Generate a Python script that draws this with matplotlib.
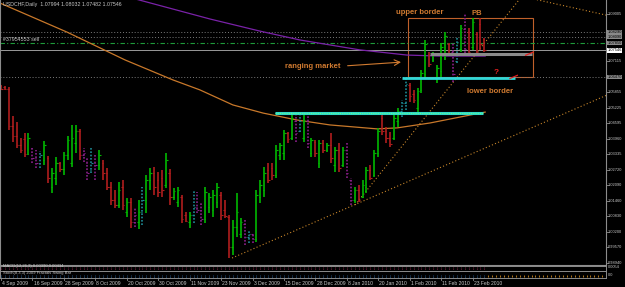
import matplotlib
matplotlib.use("Agg")
import matplotlib.pyplot as plt
from matplotlib.patches import Rectangle

plt.rcParams['font.family'] = ['Liberation Sans', 'DejaVu Sans']

# USDCHF daily bars, 4 Sep 2009 - 26 Feb 2010
highs = [1.0615, 1.0611, 1.0607, 1.0489, 1.0465, 1.0400, 1.0420, 1.0420, 1.0364, 1.0352,
         1.0347, 1.0388, 1.0327, 1.0279, 1.0323, 1.0303, 1.0343, 1.0408, 1.0453, 1.0453,
         1.0437, 1.0360, 1.0323, 1.0360, 1.0331, 1.0352, 1.0311, 1.0279, 1.0222, 1.0190,
         1.0222, 1.0230, 1.0157, 1.0157, 1.0121, 1.0149, 1.0202, 1.0250, 1.0279, 1.0283,
         1.0263, 1.0271, 1.0339, 1.0275, 1.0198, 1.0202, 1.0169, 1.0100, 1.0100, 1.0190,
         1.0181, 1.0141, 1.0202, 1.0177, 1.0190, 1.0218, 1.0181, 1.0149, 1.0088, 1.0068,
         1.0177, 1.0076, 1.0068, 1.0028, 1.0015, 1.0190, 1.0230, 1.0283, 1.0299, 1.0299,
         1.0372, 1.0380, 1.0433, 1.0424, 1.0505, 1.0501, 1.0501, 1.0493, 1.0501, 1.0400,
         1.0392, 1.0392, 1.0392, 1.0380, 1.0420, 1.0364, 1.0380, 1.0364, 1.0380, 1.0238,
         1.0202, 1.0210, 1.0230, 1.0283, 1.0291, 1.0352, 1.0441, 1.0493, 1.0445, 1.0424,
         1.0493, 1.0522, 1.0554, 1.0643, 1.0623, 1.0595, 1.0603, 1.0676, 1.0797, 1.0748,
         1.0748, 1.0696, 1.0785, 1.0829, 1.0785, 1.0785, 1.0805, 1.0858, 1.0906, 1.0846,
         1.0886, 1.0829, 1.0886, 1.08032]
lows = [1.0595, 1.0595, 1.0433, 1.0384, 1.0360, 1.0339, 1.0323, 1.0331, 1.0299, 1.0279,
        1.0279, 1.0291, 1.0218, 1.0177, 1.0210, 1.0263, 1.0250, 1.0311, 1.0283, 1.0339,
        1.0311, 1.0303, 1.0230, 1.0258, 1.0230, 1.0271, 1.0230, 1.0190, 1.0129, 1.0117,
        1.0117, 1.0109, 1.0080, 1.0036, 1.0040, 1.0032, 1.0048, 1.0096, 1.0190, 1.0169,
        1.0161, 1.0161, 1.0198, 1.0129, 1.0149, 1.0121, 1.0056, 1.0060, 1.0036, 1.0056,
        1.0096, 1.0048, 1.0056, 1.0096, 1.0080, 1.0117, 1.0068, 1.0076, 0.9914, 0.9926,
        0.9999, 0.9995, 0.9967, 0.9975, 0.9975, 0.9979, 1.0137, 1.0161, 1.0218, 1.0230,
        1.0238, 1.0311, 1.0311, 1.0380, 1.0392, 1.0384, 1.0424, 1.0384, 1.0360, 1.0323,
        1.0323, 1.0279, 1.0339, 1.0343, 1.0299, 1.0263, 1.0263, 1.0283, 1.0238, 1.0129,
        1.0137, 1.0141, 1.0157, 1.0177, 1.0230, 1.0242, 1.0323, 1.0412, 1.0380, 1.0364,
        1.0392, 1.0445, 1.0485, 1.0513, 1.0546, 1.0542, 1.0501, 1.0582, 1.0647, 1.0688,
        1.0708, 1.0623, 1.0647, 1.0716, 1.0736, 1.0627, 1.0704, 1.0748, 1.0744, 1.0736,
        1.0757, 1.0736, 1.0757, 1.07482]
opens = [1.0612, 1.0608, 1.0598, 1.0450, 1.0410, 1.0372, 1.0395, 1.0335, 1.0360, 1.0320,
         1.0300, 1.0310, 1.0320, 1.0200, 1.0240, 1.0300, 1.0275, 1.0330, 1.0300, 1.0380,
         1.0430, 1.0330, 1.0300, 1.0270, 1.0300, 1.0290, 1.0300, 1.0260, 1.0200, 1.0150,
         1.0130, 1.0200, 1.0100, 1.0140, 1.0060, 1.0060, 1.0100, 1.0150, 1.0230, 1.0260,
         1.0230, 1.0240, 1.0210, 1.0260, 1.0160, 1.0140, 1.0160, 1.0090, 1.0060, 1.0090,
         1.0120, 1.0110, 1.0070, 1.0120, 1.0110, 1.0140, 1.0170, 1.0110, 1.0080, 0.9960,
         1.0040, 1.0010, 1.0050, 1.0000, 1.0010, 0.9990, 1.0160, 1.0190, 1.0270, 1.0280,
         1.0250, 1.0330, 1.0340, 1.0420, 1.0400, 1.0470, 1.0430, 1.0400, 1.0470, 1.0340,
         1.0385, 1.0300, 1.0380, 1.0350, 1.0370, 1.0290, 1.0350, 1.0290, 1.0350, 1.0230,
         1.0150, 1.0190, 1.0160, 1.0200, 1.0270, 1.0250, 1.0340, 1.0480, 1.0430, 1.0400,
         1.0400, 1.0470, 1.0510, 1.0540, 1.0615, 1.0580, 1.0520, 1.0595, 1.0660, 1.0740,
         1.0715, 1.0640, 1.0670, 1.0740, 1.0780, 1.0750, 1.0710, 1.0760, 1.0840, 1.0830,
         1.0770, 1.0820, 1.0860, 1.07994]
closes = [1.0600, 1.0598, 1.0450, 1.0410, 1.0372, 1.0350, 1.0335, 1.0400, 1.0320, 1.0300,
          1.0330, 1.0370, 1.0240, 1.0260, 1.0300, 1.0275, 1.0330, 1.0390, 1.0400, 1.0430,
          1.0330, 1.0340, 1.0260, 1.0300, 1.0290, 1.0330, 1.0260, 1.0200, 1.0150, 1.0130,
          1.0190, 1.0130, 1.0140, 1.0060, 1.0090, 1.0100, 1.0150, 1.0230, 1.0260, 1.0200,
          1.0180, 1.0190, 1.0310, 1.0160, 1.0185, 1.0190, 1.0070, 1.0065, 1.0090, 1.0120,
          1.0110, 1.0070, 1.0180, 1.0160, 1.0170, 1.0200, 1.0090, 1.0085, 0.9960, 1.0040,
          1.0100, 1.0060, 1.0000, 1.0010, 0.9990, 1.0170, 1.0210, 1.0260, 1.0230, 1.0250,
          1.0350, 1.0370, 1.0420, 1.0395, 1.0480, 1.0420, 1.0470, 1.0470, 1.0380, 1.0390,
          1.0340, 1.0380, 1.0350, 1.0370, 1.0320, 1.0350, 1.0280, 1.0350, 1.0260, 1.0150,
          1.0190, 1.0150, 1.0210, 1.0270, 1.0240, 1.0340, 1.0430, 1.0430, 1.0400, 1.0375,
          1.0480, 1.0510, 1.0540, 1.0620, 1.0570, 1.0555, 1.0590, 1.0665, 1.0780, 1.0700,
          1.0740, 1.0685, 1.0770, 1.0815, 1.0745, 1.0660, 1.0790, 1.0845, 1.0760, 1.0750,
          1.0870, 1.0750, 1.0780, 1.07546]
# g = up bar, r = down bar, t / p = bars marked by the indicator (teal / purple)
kinds = ("rrrrrrrgpp" "tgrggrgggg" "rpptpgrrrr" "grgrpgtggr" "rrgrggrrgt"
         "ppggggrrrg" "ggptpgggrr" "gggrgptgpg" "rgrgrgrgpp" "grggrggrrr"
         "ggttrrgggr" "ggggrptgpr" "grrr")

date_idx = [0, 8, 16, 24, 32, 40, 48, 56, 64, 72, 80, 88, 96, 104, 112, 120]
date_labels = ["4 Sep 2009", "16 Sep 2009", "28 Sep 2009", "8 Oct 2009", "20 Oct 2009",
               "30 Oct 2009", "11 Nov 2009", "23 Nov 2009", "3 Dec 2009", "15 Dec 2009",
               "28 Dec 2009", "8 Jan 2010", "20 Jan 2010", "1 Feb 2010", "11 Feb 2010",
               "23 Feb 2010"]
price_ticks = [0.98940, 0.99570, 1.00200, 1.00830, 1.01460, 1.02090, 1.02720, 1.03335,
               1.03960, 1.04595, 1.05225, 1.05855, 1.07115, 1.09005]

# moving averages, read at a few points (bar index, price)
ma_orange_x = [-0.3, 16.8, 31.6, 43.8, 50.6, 59.0, 66.7, 75.3, 83.7, 95.7, 100.8, 109.2, 121.9, 123.2]
ma_orange_y = [1.0947, 1.0829, 1.0716, 1.0635, 1.0595, 1.0534, 1.0501, 1.0473, 1.0453, 1.0437,
               1.0441, 1.0461, 1.0501, 1.0505]
ma_purple_x = [33.3, 53.2, 65.9, 76.1, 91.3, 103.3, 111.7, 123.2]
ma_purple_y = [1.0967, 1.0882, 1.0833, 1.0797, 1.0757, 1.0736, 1.0732, 1.0732]

# drawn objects
dotted_levels = [1.0829, 1.0809, 1.0647]
sell_level = 1.0785
trend_long = ([58.8, 154.5], [0.9914, 1.0576])
trend_steep = ([90.1, 133.0], [1.0129, 1.0983])
trend_top = ([135.0, 154.5], [1.0965, 1.0896])
support_low = ([69.7, 122.6], 1.0503)
support_high = ([102.0, 130.8], 1.0643)
grey_level = ([109.2, 135.1], 1.0742)
box_x = (103.6, 135.4)
box_y = (1.0647, 1.0886)

BG = '#000000'
AXC = '#8c8c8c'
TXT = '#c8c8c8'
ORANGE = '#d07a30'
bar_col = {'g': '#00b800', 'r': '#b01e1e', 't': '#1d8a94', 'p': '#8a1f8a'}

fig = plt.figure(figsize=(6.25, 2.87), dpi=100, facecolor=BG)
W, H = 625.0, 287.0
ax = fig.add_axes([0, (H - 265) / H, 606 / W, 265 / H], facecolor=BG)
ax.set_xlim(-0.25, 153.95)
ax.set_ylim(0.98857, 1.0959)
for s in ax.spines.values():
    s.set_color(AXC)
    s.set_linewidth(0.8)
ax.spines['top'].set_visible(False)
ax.set_xticks([])
ax.set_yticks([])

# full width horizontal lines
for lv in dotted_levels:
    ax.axhline(lv, color='#7a7a7a', lw=0.7, ls=(0, (1, 2)))
ax.axhline(sell_level, color='#1f9a3a', lw=0.8, ls=(0, (4, 2, 1, 2)))
ax.axhline(closes[-1], color='#9a9a9a', lw=0.7)

# moving averages
ax.plot(ma_orange_x, ma_orange_y, color='#c8782a', lw=0.9)
ax.plot(ma_purple_x, ma_purple_y, color='#7a22a8', lw=0.9)

# trend lines
for xs, ys in (trend_long, trend_steep, trend_top):
    ax.plot(xs, ys, color='#c8862a', lw=0.8, ls=(0, (1, 2)))

# bars
for i, (o, h, l, c, k) in enumerate(zip(opens, highs, lows, closes, kinds)):
    col = bar_col[k]
    ls = '-' if k in 'gr' else (0, (1, 1))
    ax.plot([i, i], [l, h], color=col, lw=1.2, ls=ls, solid_capstyle='butt')
    ax.plot([i - 0.4, i], [o, o], color=col, lw=0.8, solid_capstyle='butt')
    ax.plot([i, i + 0.4], [c, c], color=col, lw=0.8, solid_capstyle='butt')

# support / resistance
ax.plot(support_low[0], [support_low[1]] * 2, color='#30d8c8', lw=2.2, solid_capstyle='butt')
ax.plot(support_low[0], [support_low[1]] * 2, color='#60ff90', lw=0.8, ls=(0, (1, 1)))
ax.plot(support_high[0], [support_high[1]] * 2, color='#30d8d8', lw=2.0, solid_capstyle='butt')
ax.plot(grey_level[0], [grey_level[1]] * 2, color='#8a8a8a', lw=2.2, solid_capstyle='butt')
ax.add_patch(Rectangle((box_x[0], box_y[0]), box_x[1] - box_x[0], box_y[1] - box_y[0],
                       fill=False, edgecolor='#c0602a', lw=0.8))

# small red markers at the ends of the levels
ax.plot([133.5, 135.4], [1.0735, 1.0748], color='#e02020', lw=0.9)
ax.plot([129.5, 131.4], [1.0641, 1.0654], color='#e02020', lw=0.9)

# annotations
tk = dict(color=ORANGE, fontsize=5.5, fontweight='bold', ha='center', va='center')
ax.text(106.6, 1.0910, 'upper border', **tk)
ax.text(121.1, 1.0906, 'PB', **tk)
ax.text(79.4, 1.0688, 'ranging market', **tk)
ax.text(124.4, 1.0590, 'lower border', **tk)
ax.text(126.0, 1.0667, '?', color='#e02020', fontsize=6, fontweight='bold', ha='center', va='center')
ax.annotate('', xy=(102.5, 1.0708), xytext=(87.5, 1.0692),
            arrowprops=dict(arrowstyle='->', color=ORANGE, lw=0.8))

ax.text(0.5, 1.0941, 'USDCHF,Daily  1.07994 1.08032 1.07482 1.07546', color=TXT, fontsize=3.8,
        ha='left', va='center')
ax.text(0.5, 1.0797, '#37954553 sell', color=TXT, fontsize=3.8, ha='left', va='center')

# price scale
ytr = ax.get_yaxis_transform()
FS = 2.9
for p in price_ticks:
    ax.plot([1.0, 1.003], [p, p], color=AXC, lw=0.6, transform=ytr, clip_on=False)
    ax.text(1.0025, p, '%.5f' % p, color=TXT, fontsize=FS, ha='left', va='center',
            transform=ytr, clip_on=False)
for lv in dotted_levels + [sell_level]:
    ax.text(1.0025, lv, '%.5f' % lv, color='#000000', fontsize=FS, ha='left', va='center',
            transform=ytr, clip_on=False,
            bbox=dict(boxstyle='square,pad=0.1', fc='#8a8a8a', ec='none'))
ax.text(1.0025, closes[-1], '%.5f' % closes[-1], color='#000000', fontsize=FS, ha='left',
        va='center', transform=ytr, clip_on=False,
        bbox=dict(boxstyle='square,pad=0.1', fc='#ffffff', ec='none'))

# indicator sub windows
sub1 = fig.add_axes([0, (H - 270.5) / H, 606 / W, 5 / H], facecolor=BG)
sub2 = fig.add_axes([0, (H - 277.5) / H, 606 / W, 6.5 / H], facecolor=BG)
for a in (sub1, sub2):
    a.set_xlim(-0.25, 153.95)
    a.set_ylim(0, 1)
    a.set_xticks([])
    a.set_yticks([])
    for s in a.spines.values():
        s.set_color(AXC)
        s.set_linewidth(0.7)
n = len(closes)
sub1.vlines(range(n), 0.3, 0.65, color='#b03060', lw=0.6, linestyles=(0, (1, 1)))
sub2.vlines(range(n), 0.1, 0.45, color='#3a86d0', lw=0.6, linestyles=(0, (1, 1)))
sub2.vlines(range(n, 154), 0.1, 0.45, color='#d08a20', lw=0.6)
sub1.text(0.5, 0.85, 'MACD(12,26,9) 0.00390 0.00434', color=TXT, fontsize=3.0, ha='left', va='center')
sub2.text(0.5, 0.75, 'Stoch(8,3,3) 2009 Fractals Swing Bar', color=TXT, fontsize=3.0,
          ha='left', va='center')
sub1.text(1.0025, 0.6, '0.0054', color=TXT, fontsize=2.8, ha='left', va='center',
          transform=sub1.transAxes, clip_on=False)
sub2.text(1.0025, 0.4, '0.0', color=TXT, fontsize=2.8, ha='left', va='center',
          transform=sub2.transAxes, clip_on=False)

# time scale
xtr = sub2.get_xaxis_transform()
for i, lab in zip(date_idx, date_labels):
    sub2.plot([i, i], [0, -0.35], color=AXC, lw=0.6, transform=xtr, clip_on=False)
    sub2.text(i + 0.3, -0.85, lab, color=TXT, fontsize=3.6, ha='left', va='center',
              transform=xtr, clip_on=False)

fig.savefig('out.png', dpi=100, facecolor=BG)
